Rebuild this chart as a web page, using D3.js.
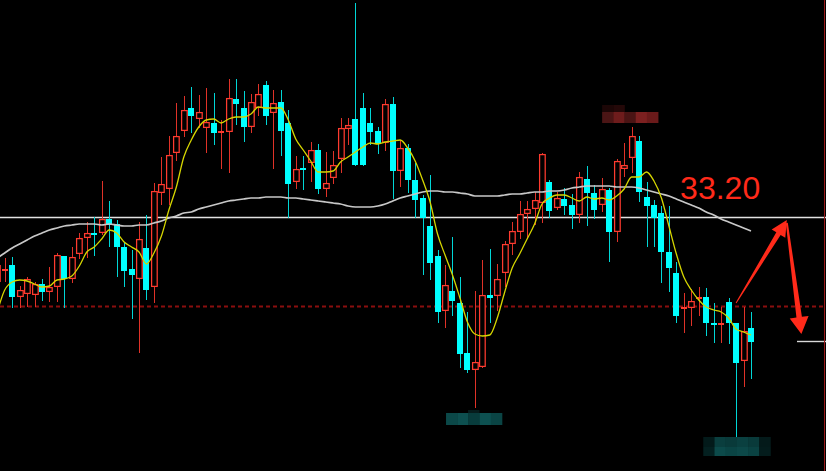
<!DOCTYPE html>
<html><head><meta charset="utf-8">
<script src="https://cdn.jsdelivr.net/npm/d3@7"></script>
<style>html,body{margin:0;padding:0;background:#000;overflow:hidden}</style>
</head><body>
<svg id="chart" width="826" height="471"></svg>
<script>
// ---- data (prices) ----
const opens = [31.90,32.14,32.24,31.60,31.66,31.64,31.86,31.70,31.80,32.42,
31.96,32.46,32.78,32.88,32.88,33.16,33.06,32.60,32.16,31.96,
32.58,31.80,33.68,33.76,34.48,34.92,35.38,35.16,34.98,35.08,
34.90,34.90,35.56,35.38,35.00,35.38,35.84,35.28,35.50,35.08,
33.90,34.18,34.28,34.54,33.76,33.98,34.36,34.96,35.16,35.38,
35.08,34.92,34.68,35.46,34.12,34.58,33.94,33.58,33.02,32.42,
31.32,31.72,31.48,30.48,30.14,30.20,31.64,31.62,32.08,32.66,
32.90,33.26,33.36,33.48,33.90,33.38,33.56,33.44,33.24,33.96,
33.68,33.44,33.74,32.90,34.16,34.38,34.72,33.60,33.44,33.28,
32.50,32.08,31.38,31.38,31.56,31.60,31.08,31.06,31.50,31.08,
30.32,30.98];
const highs = [32.38,32.38,32.40,31.82,32.00,31.90,31.96,32.20,32.48,32.42,
32.60,32.88,33.10,33.20,33.92,33.52,33.14,32.70,32.54,33.10,
33.24,33.88,34.40,34.82,35.48,35.62,35.80,35.64,35.78,35.68,
35.14,35.96,35.96,35.72,35.66,35.86,35.92,35.74,35.74,35.34,
34.42,34.42,34.70,34.66,34.50,34.52,35.18,35.18,37.48,35.68,
35.38,35.00,35.56,35.60,34.74,34.66,34.28,33.64,34.04,32.54,
32.24,32.80,32.00,31.30,31.72,32.34,32.56,32.26,32.72,33.10,
33.52,33.52,33.70,34.48,33.94,33.70,33.78,33.66,34.10,34.22,
33.84,33.98,33.78,34.36,34.68,35.00,34.82,33.90,33.54,33.42,
33.42,32.30,31.68,31.76,31.80,31.78,31.48,31.40,31.58,31.08,
31.40,31.30];
const lows = [31.74,31.90,31.38,31.38,31.40,31.40,31.52,31.50,31.50,31.38,
31.88,32.36,32.38,32.42,32.84,32.60,32.00,31.80,31.16,30.48,
31.54,31.48,33.44,33.44,34.32,34.80,34.88,34.98,34.48,34.64,
34.16,34.08,35.04,34.70,34.88,35.22,35.04,34.16,34.42,33.18,
33.76,33.74,33.90,33.66,33.60,33.86,34.08,34.64,34.22,34.22,
34.64,34.46,34.52,33.56,33.80,33.68,33.18,32.04,31.94,31.08,
30.98,31.22,30.18,30.08,29.38,30.18,31.08,31.32,31.80,32.44,
32.76,32.78,33.04,33.08,33.18,33.34,33.24,32.96,33.08,33.02,
33.16,33.30,32.30,32.70,34.00,34.08,33.50,32.60,32.60,31.88,
31.70,31.08,30.88,31.02,31.22,30.82,30.68,30.68,30.66,28.80,
29.80,29.96];
const closes = [32.24,32.16,31.60,31.74,31.96,31.86,31.70,31.80,32.44,31.96,
32.40,32.78,32.88,32.84,33.16,33.04,32.60,32.12,32.04,32.76,
31.74,33.72,33.86,34.44,34.82,35.34,35.22,35.30,35.10,34.88,
34.92,35.58,35.46,35.00,35.50,35.66,35.22,35.48,34.92,33.86,
34.16,34.16,34.54,33.76,33.88,34.24,34.98,35.04,34.24,34.24,
34.90,34.66,35.46,34.12,34.58,33.94,33.54,33.18,32.28,31.30,
31.84,31.52,30.46,30.14,30.30,31.64,31.58,31.96,32.66,32.92,
33.26,33.36,33.54,34.46,33.32,33.58,33.42,33.24,34.00,33.68,
33.34,33.76,32.90,34.32,34.24,34.82,33.70,33.42,33.18,32.50,
32.18,31.22,31.40,31.52,31.60,31.08,31.06,31.08,31.08,30.28,
30.92,30.70];
// short moving average (yellow), read per candle
const maShort = [31.30,31.74,31.90,31.94,31.92,31.86,31.80,31.82,31.94,31.96,
32.02,32.22,32.50,32.60,32.76,32.94,32.88,32.70,32.60,32.50,
32.26,32.48,32.82,33.34,33.80,34.40,34.74,35.00,35.14,35.16,
35.08,35.16,35.20,35.20,35.26,35.40,35.38,35.38,35.38,35.14,
34.76,34.54,34.32,34.10,34.10,34.12,34.30,34.40,34.50,34.60,
34.68,34.66,34.70,34.72,34.74,34.58,34.32,33.94,33.50,32.86,
32.44,32.04,31.58,31.10,30.86,30.82,30.84,31.18,31.70,32.18,
32.46,32.76,33.06,33.46,33.58,33.64,33.64,33.58,33.52,33.60,
33.56,33.58,33.54,33.62,33.76,34.00,34.00,34.10,33.92,33.58,
33.02,32.46,32.00,31.74,31.54,31.40,31.34,31.30,31.18,30.96,
30.90,30.84];
// long moving average (grey), read per candle
const maLong = [32.38,32.48,32.58,32.66,32.74,32.82,32.88,32.94,32.98,33.02,
33.04,33.06,33.06,33.06,33.04,33.06,33.04,33.02,33.02,33.04,
33.04,33.08,33.12,33.18,33.22,33.28,33.30,33.36,33.40,33.44,
33.48,33.52,33.54,33.56,33.58,33.58,33.60,33.60,33.60,33.58,
33.58,33.56,33.54,33.52,33.50,33.48,33.46,33.42,33.40,33.40,
33.40,33.42,33.46,33.52,33.58,33.62,33.66,33.70,33.72,33.72,
33.70,33.70,33.68,33.66,33.62,33.62,33.62,33.62,33.64,33.66,
33.66,33.68,33.70,33.70,33.72,33.72,33.74,33.78,33.80,33.82,
33.82,33.82,33.82,33.80,33.80,33.80,33.78,33.74,33.70,33.66,
33.62,33.56,33.50,33.44,33.38,33.30,33.24,33.16,33.10,33.04,
32.98,32.92];
// reference levels and annotation
const levelWhite = 33.20;
const levelDotted = 31.41;
const levelShort = 30.72;
const labelText = "33.20";
const arrowIdx = [99, 105.8, 107.75];
const arrowPrice = [31.48, 33.14, 30.86];

// ---- drawing ----
const W = 826, H = 471;
const svg = d3.select('#chart');
svg.append('rect').attr('width', W).attr('height', H).attr('fill', '#000');

const x = d3.scaleLinear().domain([0, opens.length - 1]).range([-2.76, 751]);
const y = d3.scaleLinear().domain([37.54, 28.12]).range([0, H]);

const candles = opens.map((o, i) => ({i, o, h: highs[i], l: lows[i], c: closes[i]}));

// reference lines
svg.append('line').attr('x1', 0).attr('x2', W)
  .attr('y1', y(levelDotted)).attr('y2', y(levelDotted))
  .attr('stroke', '#8a0e0e').attr('stroke-width', 2).attr('stroke-dasharray', '4,3');
svg.append('line').attr('x1', 0).attr('x2', W)
  .attr('y1', Math.round(y(levelWhite)) + 0.5).attr('y2', Math.round(y(levelWhite)) + 0.5)
  .attr('stroke', '#e2e2e2').attr('stroke-width', 1.4);
svg.append('line').attr('x1', 797).attr('x2', W)
  .attr('y1', Math.round(y(levelShort)) + 0.5).attr('y2', Math.round(y(levelShort)) + 0.5)
  .attr('stroke', '#d8d8d8').attr('stroke-width', 1.4);
svg.append('line').attr('x1', 824.5).attr('x2', 824.5).attr('y1', 0).attr('y2', H)
  .attr('stroke', '#9a1a1a').attr('stroke-width', 1);

const RED = '#ff3b2f', CYAN = '#00ffff';
const g = svg.append('g');
candles.forEach(d => {
  const up = d.c >= d.o;
  const cx = Math.round(x(d.i));
  let top = Math.round(y(Math.max(d.o, d.c)));
  let bot = Math.round(y(Math.min(d.o, d.c)));
  if (bot - top < 2) bot = top + 2;
  const hi = Math.round(y(d.h)), lo = Math.round(y(d.l));
  const col = up ? RED : CYAN;
  const wcol = up ? '#e03228' : '#00d6d6';
  if (hi < top) g.append('line').attr('x1', cx + 0.5).attr('x2', cx + 0.5).attr('y1', hi).attr('y2', top).attr('stroke', wcol).attr('stroke-width', 1);
  if (lo > bot) g.append('line').attr('x1', cx + 0.5).attr('x2', cx + 0.5).attr('y1', bot).attr('y2', lo).attr('stroke', wcol).attr('stroke-width', 1);
  if (up) {
    if (bot - top <= 2) {
      g.append('rect').attr('x', cx - 3).attr('y', top).attr('width', 6).attr('height', 2).attr('fill', col);
    } else {
      g.append('rect').attr('x', cx - 2.4).attr('y', top + 0.6).attr('width', 5.6).attr('height', bot - top - 1.2)
        .attr('fill', '#000').attr('stroke', col).attr('stroke-width', 1.25);
    }
  } else {
    g.append('rect').attr('x', cx - 3).attr('y', top).attr('width', 6).attr('height', bot - top).attr('fill', col);
  }
});

// moving averages
const maLine = d3.line().x((v, i) => x(i)).y(v => y(v)).curve(d3.curveMonotoneX);
svg.append('path').attr('d', maLine(maLong)).attr('fill', 'none')
  .attr('stroke', '#c8c8c8').attr('stroke-width', 1.7);
svg.append('path').attr('d', maLine(maShort)).attr('fill', 'none')
  .attr('stroke', '#d6d600').attr('stroke-width', 1.3);

// annotation text
svg.append('text').attr('x', x(91.5)).attr('y', y(levelWhite) - 18)
  .attr('fill', '#ff2a1a').attr('font-family', '"Liberation Sans", Arial, sans-serif')
  .attr('font-size', 32).text(labelText);

// tapered arrows
function arrow(p0, p1, w0, w1, hl, hw) {
  const dx = p1[0] - p0[0], dy = p1[1] - p0[1], L = Math.hypot(dx, dy);
  const ux = dx / L, uy = dy / L, nx = -uy, ny = ux;
  const bx = p1[0] - ux * hl, by = p1[1] - uy * hl;
  const pts = [
    [p0[0] + nx * w0 / 2, p0[1] + ny * w0 / 2],
    [bx + nx * w1 / 2, by + ny * w1 / 2],
    [bx + nx * hw / 2, by + ny * hw / 2],
    [p1[0], p1[1]],
    [bx - nx * hw / 2, by - ny * hw / 2],
    [bx - nx * w1 / 2, by - ny * w1 / 2],
    [p0[0] - nx * w0 / 2, p0[1] - ny * w0 / 2]
  ];
  svg.append('polygon').attr('points', pts.map(p => p.join(',')).join(' ')).attr('fill', '#ff2a1a');
}
const ap = arrowIdx.map((v, k) => [x(v), y(arrowPrice[k])]);
arrow(ap[0], ap[1], 1, 5, 16, 16);
arrow([ap[1][0], ap[1][1] + 3], ap[2], 2, 5.5, 17, 19);

// pixelated (mosaic) labels
function mosaic(x0, y0, bw, rows) {
  rows.forEach((row, r) => {
    let yy = y0;
    for (let k = 0; k < r; k++) yy += rows[k].h;
    row.c.forEach((c, j) => {
      if (!c) return;
      svg.append('rect').attr('x', x0 + (row.off || 0) + j * bw).attr('y', yy)
        .attr('width', bw + 0.3).attr('height', row.h).attr('fill', c);
    });
  });
}
mosaic(x(84) - 22, y(highs[85]) - 22, 11.2, [
  {h: 7, c: ['#1c0606', '#240808']},
  {h: 11, c: ['#4b1515', '#6e1c1c', '#4a1414', '#7c2020', '#6a1a1a']}
]);
mosaic(x(60) + 1, y(lows[64]) + 2, 11.2, [
  {h: 3, off: 22, c: ['#061c1c']},
  {h: 12, c: ['#0b4848', '#0d5050', '#083c3c', '#0d5050', '#0a4444']}
]);
mosaic(x(94) + 4.5, y(lows[99]), 11.2, [
  {h: 10, c: ['#031a1a', '#0a3e3e', '#093a3a', '#0a4040', '#093a3a', '#041a1a']},
  {h: 9, c: ['#042020', '#0c4a4a', '#0a4444', '#0c4848', '#0a4242', '#041c1c']}
]);
</script>
</body></html>
